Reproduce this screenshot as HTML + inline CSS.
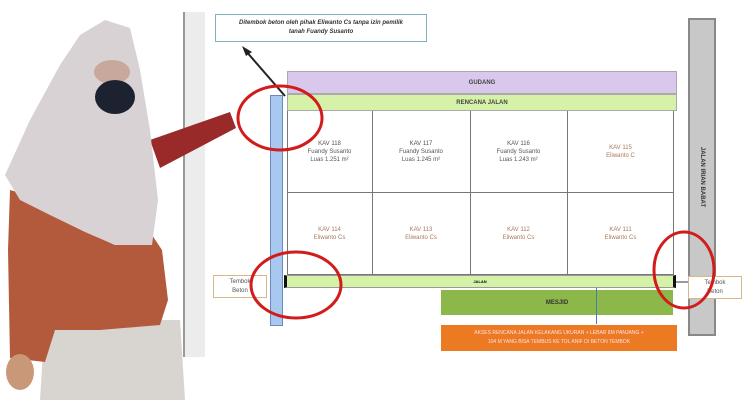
<!DOCTYPE html>
<html><head><meta charset="utf-8"><style>
body{margin:0;width:750px;height:400px;overflow:hidden;background:#fff;font-family:"Liberation Sans",sans-serif}
.a{position:absolute;box-sizing:border-box}
.t{display:flex;align-items:center;justify-content:center;text-align:center}
</style></head><body>
<div class="a" style="left:183px;top:12px;width:22px;height:345px;background:#ececec;border-left:2px solid #999"></div>
<div class="a t" style="left:215px;top:14px;width:212px;height:28px;border:1px solid #7fb3bd;font-size:6px;font-style:italic;font-weight:bold;color:#333;line-height:9px">Ditembok beton oleh pihak Eliwanto Cs tanpa izin pemilik<br>tanah Fuandy Susanto</div>
<div class="a t" style="left:287px;top:71px;width:390px;height:23px;background:#d9c8ec;border:1px solid #aaa;font-size:6px;font-weight:bold;color:#444">GUDANG</div>
<div class="a t" style="left:287px;top:94px;width:390px;height:17px;background:#d6f2a8;border:1px solid #aaa;font-size:6px;font-weight:bold;color:#444">RENCANA JALAN</div>
<div class="a" style="left:287px;top:111px;width:387px;height:164px;border:1px solid #777;border-top:none"></div>
<div class="a" style="left:287px;top:192px;width:387px;height:1px;background:#777"></div>
<div class="a" style="left:372px;top:111px;width:1px;height:164px;background:#777"></div>
<div class="a" style="left:470px;top:111px;width:1px;height:164px;background:#777"></div>
<div class="a" style="left:567px;top:111px;width:1px;height:164px;background:#777"></div>
<div class="a t" style="left:287px;top:111px;width:85px;height:81px;font-size:6px;color:#555;line-height:8px">KAV 118<br>Fuandy Susanto<br>Luas 1.251 m²</div>
<div class="a t" style="left:372px;top:111px;width:98px;height:81px;font-size:6px;color:#555;line-height:8px">KAV 117<br>Fuandy Susanto<br>Luas 1.245 m²</div>
<div class="a t" style="left:470px;top:111px;width:97px;height:81px;font-size:6px;color:#555;line-height:8px">KAV 116<br>Fuandy Susanto<br>Luas 1.243 m²</div>
<div class="a t" style="left:567px;top:111px;width:107px;height:81px;font-size:6px;color:#a87a5a;line-height:8px">KAV 115<br>Eliwanto C</div>
<div class="a t" style="left:287px;top:192px;width:85px;height:83px;font-size:6px;color:#a87a5a;line-height:8px">KAV 114<br>Eliwanto Cs</div>
<div class="a t" style="left:372px;top:192px;width:98px;height:83px;font-size:6px;color:#a87a5a;line-height:8px">KAV 113<br>Eliwanto Cs</div>
<div class="a t" style="left:470px;top:192px;width:97px;height:83px;font-size:6px;color:#a87a5a;line-height:8px">KAV 112<br>Eliwanto Cs</div>
<div class="a t" style="left:567px;top:192px;width:107px;height:83px;font-size:6px;color:#a87a5a;line-height:8px">KAV 111<br>Eliwanto Cs</div>
<div class="a t" style="left:284px;top:275px;width:392px;height:13px;background:#d6f2a8;border:1px solid #999;border-left:3px solid #111;border-right:3px solid #111;font-size:4px;font-weight:bold">JALAN</div>
<div class="a t" style="left:441px;top:290px;width:232px;height:25px;background:#8cb84a;font-size:6px;font-weight:bold;color:#333">MESJID</div>
<div class="a t" style="left:441px;top:325px;width:236px;height:26px;background:#ec7a22;font-size:5px;color:#fde;line-height:9px">AKSES RENCANA JALAN KELAKANG UKURAN + LEBAR 8M PANJANG +<br>104 M YANG BISA TEMBUS KE TOL ANIF DI BETON TEMBOK</div>
<div class="a" style="left:596px;top:288px;width:1px;height:36px;background:#4a7ab8"></div>
<div class="a t" style="left:213px;top:275px;width:54px;height:23px;border:1px solid #d8b78a;font-size:6px;color:#555;line-height:9px">Tembok<br>Beton</div>
<div class="a t" style="left:688px;top:276px;width:54px;height:23px;border:1px solid #d8b78a;background:#fff;font-size:6px;color:#555;line-height:9px;z-index:2">Tembok<br>Beton</div>
<div class="a" style="left:270px;top:95px;width:13px;height:231px;background:#a8c8f0;border:1px solid #6a8ac0"></div>
<div class="a t" style="left:688px;top:18px;width:28px;height:318px;background:#c8c8c8;border:2px solid #888"><span style="transform:rotate(90deg);white-space:nowrap;font-size:6px;font-weight:bold;color:#333">JALAN IRIAN BABAT</span></div>
<svg class="a" style="left:0;top:0;z-index:3" width="750" height="400">
<line x1="285" y1="96" x2="245" y2="50" stroke="#222" stroke-width="2"/>
<polygon points="242,46 252,52 246,56" fill="#222"/>
<line x1="676" y1="282" x2="688" y2="282" stroke="#333"/>
<ellipse cx="280" cy="118" rx="42" ry="32" fill="none" stroke="#d21b1b" stroke-width="3"/>
<ellipse cx="296" cy="285" rx="45" ry="33" fill="none" stroke="#d21b1b" stroke-width="3"/>
<ellipse cx="684" cy="270" rx="30" ry="38" fill="none" stroke="#d21b1b" stroke-width="3"/>
<polygon points="45,320 180,320 185,400 40,400" fill="#d8d4d0"/>
<polygon points="150,140 230,112 236,128 160,168" fill="#9a2a2a"/>
<polygon points="10,190 40,198 80,228 115,245 150,232 162,250 168,300 160,325 100,330 55,330 45,362 10,358 8,250" fill="#b45a3c"/>
<ellipse cx="20" cy="372" rx="14" ry="18" fill="#c99878"/>
<polygon points="5,175 30,120 60,65 80,35 105,20 130,28 140,70 150,130 158,200 152,245 115,245 85,232 50,215 20,200" fill="#d8d2d4"/>
<ellipse cx="112" cy="72" rx="18" ry="12" fill="#c8a89a"/>
<ellipse cx="115" cy="97" rx="20" ry="17" fill="#1c2230"/>
</svg>
</body></html>
